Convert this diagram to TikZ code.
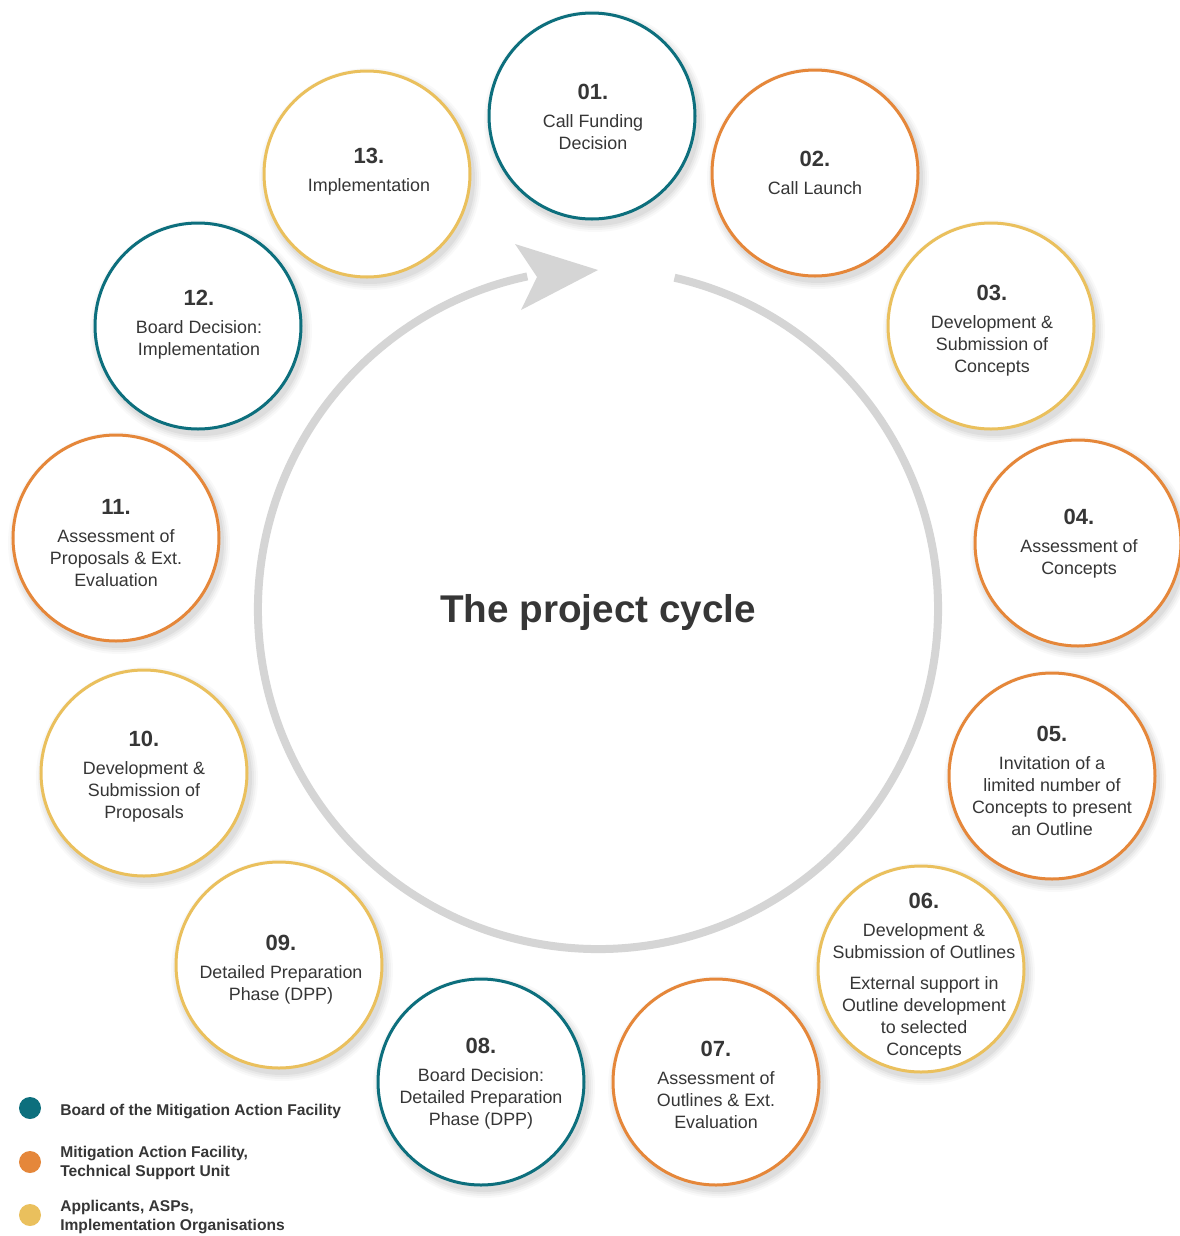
\documentclass[tikz,border=0pt]{standalone}
\usepackage{fontspec}
\setmainfont{Liberation Sans}
\usetikzlibrary{calc}
\definecolor{cteal}{HTML}{0D6F7D}
\definecolor{corange}{HTML}{E5873A}
\definecolor{cyellow}{HTML}{EAC05D}
\definecolor{ctext}{HTML}{363636}
\definecolor{carc}{HTML}{D5D5D5}
\newcommand\numtxt[1]{{\fontsize{16.5}{18}\selectfont\bfseries #1}}
\newcommand\shadowat[2]{%
  \foreach \r/\o in {111/0.025,109/0.03,107/0.035,105/0.045}{%
    \fill[black,opacity=\o] (#1+3,-#2-5) circle (\r);}}
\begin{document}
\begin{tikzpicture}[x=0.75pt,y=0.75pt,
  stage/.style={circle, draw=#1, line width=2.25pt, fill=white, minimum size=154.5pt, inner sep=0pt},
  stagetext/.style={align=center, text=ctext, font=\fontsize{13.4}{16.5}\selectfont, inner sep=0pt},
  legdot/.style={circle, fill=#1, minimum size=16.5pt, inner sep=0pt},
  legtext/.style={anchor=west, align=left, text=ctext, font=\fontsize{11.7}{14.5}\selectfont\bfseries, inner sep=0pt}]
\useasboundingbox (0,0) rectangle (1179,-1236);
\fill[white] (0,0) rectangle (1179,-1236);

% big cycle arc
\coordinate (cc) at (598,-609);
\draw[carc, line width=6pt] ($(cc)+(77:340)$) arc[start angle=77, end angle=-258, radius=340];
\fill[carc] (515,-244) -- (598,-270) -- (521,-310) -- (537,-277) -- cycle;

\node[font=\fontsize{29}{34}\selectfont\bfseries, text=ctext] (title) at (598,-612) {The project cycle};

% shadows
\shadowat{592}{116}
\shadowat{815}{173}
\shadowat{991}{326}
\shadowat{1078}{543}
\shadowat{1052}{776}
\shadowat{921}{969}
\shadowat{716}{1082}
\shadowat{481}{1082}
\shadowat{279}{965}
\shadowat{144}{773}
\shadowat{116}{538}
\shadowat{198}{326}
\shadowat{367}{174}

% stages
\node[stage=cteal] (s01) at (592,-116) {};
\node[stagetext] (t01) at (593,-117) {\numtxt{01.}\\[4.5pt]Call Funding\\Decision};

\node[stage=corange] (s02) at (815,-173) {};
\node[stagetext] (t02) at (815,-173) {\numtxt{02.}\\[4.5pt]Call Launch};

\node[stage=cyellow] (s03) at (991,-326) {};
\node[stagetext] (t03) at (992,-331) {\numtxt{03.}\\[4.5pt]Development \&\\Submission of\\Concepts};

\node[stage=corange] (s04) at (1078,-543) {};
\node[stagetext] (t04) at (1079,-544) {\numtxt{04.}\\[4.5pt]Assessment of\\Concepts};

\node[stage=corange] (s05) at (1052,-776) {};
\node[stagetext] (t05) at (1052,-781) {\numtxt{05.}\\[4.5pt]Invitation of a\\limited number of\\Concepts to present\\an Outline};

\node[stage=cyellow] (s06) at (921,-969) {};
\node[stagetext] (t06) at (924,-976) {\numtxt{06.}\\[4.5pt]Development \&\\Submission of Outlines\\[7pt]External support in\\Outline development\\to selected\\Concepts};

\node[stage=corange] (s07) at (716,-1082) {};
\node[stagetext] (t07) at (716,-1085) {\numtxt{07.}\\[4.5pt]Assessment of\\Outlines \& Ext.\\Evaluation};

\node[stage=cteal] (s08) at (481,-1082) {};
\node[stagetext] (t08) at (481,-1084) {\numtxt{08.}\\[4.5pt]Board Decision:\\Detailed Preparation\\Phase (DPP)};

\node[stage=cyellow] (s09) at (279,-965) {};
\node[stagetext] (t09) at (281,-970) {\numtxt{09.}\\[4.5pt]Detailed Preparation\\Phase (DPP)};

\node[stage=cyellow] (s10) at (144,-773) {};
\node[stagetext] (t10) at (144,-777) {\numtxt{10.}\\[4.5pt]Development \&\\Submission of\\Proposals};

\node[stage=corange] (s11) at (116,-538) {};
\node[stagetext] (t11) at (116,-543) {\numtxt{11.}\\[4.5pt]Assessment of\\Proposals \& Ext.\\Evaluation};

\node[stage=cteal] (s12) at (198,-326) {};
\node[stagetext] (t12) at (199,-325) {\numtxt{12.}\\[4.5pt]Board Decision:\\Implementation};

\node[stage=cyellow] (s13) at (367,-174) {};
\node[stagetext] (t13) at (369,-172) {\numtxt{13.}\\[4.5pt]Implementation};

% legend
\node[legdot=cteal] (d1) at (30,-1108) {};
\node[legtext] (l1) at (60,-1111) {Board of the Mitigation Action Facility};
\node[legdot=corange] (d2) at (30,-1162) {};
\node[legtext] (l2) at (60,-1163) {Mitigation Action Facility,\\Technical Support Unit};
\node[legdot=cyellow] (d3) at (30,-1215) {};
\node[legtext] (l3) at (60,-1217) {Applicants, ASPs,\\Implementation Organisations};
\end{tikzpicture}
\end{document}
